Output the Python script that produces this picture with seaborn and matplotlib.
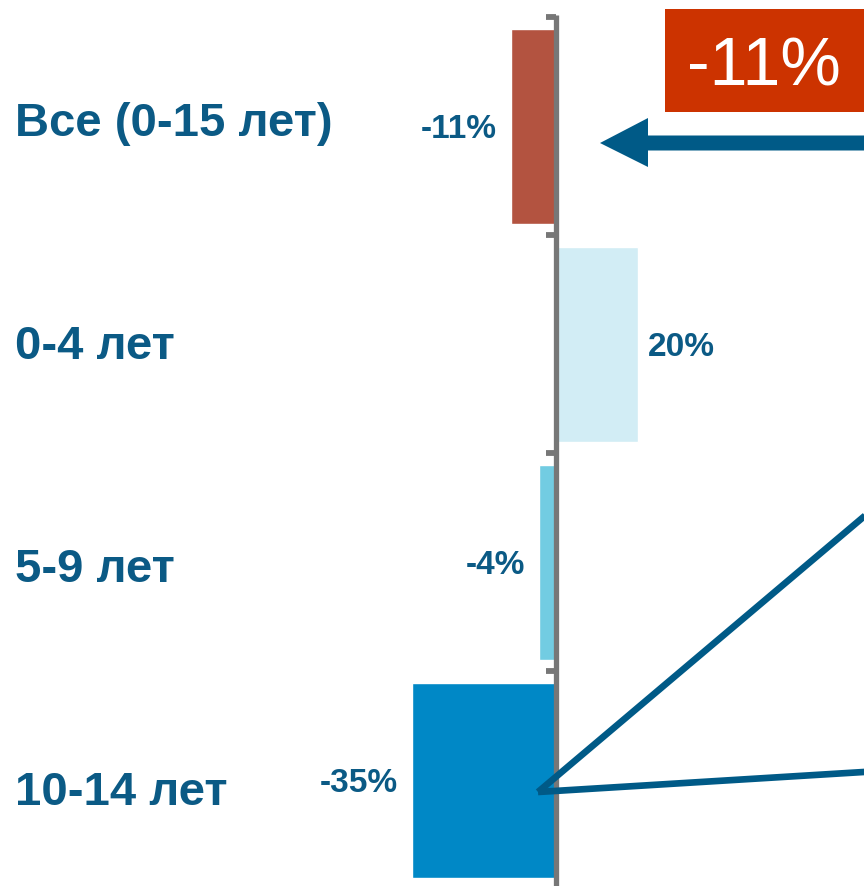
import matplotlib
matplotlib.use("Agg")
import matplotlib.pyplot as plt
from matplotlib.patches import Rectangle, Polygon
import seaborn as sns
import pandas as pd

# Population change by age group
categories = ["Все (0-15 лет)", "0-4 лет", "5-9 лет", "10-14 лет"]
changes = [-11, 20, -4, -35]
bar_colors = ["#B35340", "#D2EDF5", "#72CCE2", "#0088C6"]

TEXT = "#0B5A85"
ARROW = "#005A87"
AXIS = "#777777"

sns.set_theme(style="white")
plt.rcParams["font.family"] = ["Liberation Sans", "DejaVu Sans"]

W, H = 864, 886
fig = plt.figure(figsize=(W / 100, H / 100), dpi=100)
ax = fig.add_axes([0, 0, 1, 1])

df = pd.DataFrame({"group": categories, "change": changes})
sns.barplot(data=df, x="change", y="group", hue="group", palette=bar_colors,
            orient="h", width=0.895, legend=False, ax=ax, saturation=1)

ax.set_xlim(-135.2, 75.0)
ax.set_ylim(3.484, -0.580)
ax.set_axis_off()

# zero line with small ticks between groups
ax.vlines(0, -0.51, 3.6, color=AXIS, lw=3.8, zorder=3)
ax.hlines([-0.5, 0.5, 1.5, 2.5], -2.3, 0, color=AXIS, lw=4.2, zorder=3)

# group names on the left (their rows are spaced a little wider than the bars)
for i, name in enumerate(categories):
    ax.text(-131.6, i * 223 / 218 - 0.01, name, ha="left", va="center", fontsize=34,
            fontweight="bold", color=TEXT)

# value labels beside bars
for i, v in enumerate(changes):
    if v < 0:
        ax.annotate(f"{v}%", xy=(v, i), xytext=(-10, -2), textcoords="offset points",
                    ha="right", va="center", fontsize=24, fontweight="bold", color=TEXT)
    else:
        ax.annotate(f"{v}%", xy=(v, i), xytext=(7, -2), textcoords="offset points",
                    ha="left", va="center", fontsize=24, fontweight="bold", color=TEXT)


def px(x, y):
    return (x / W, 1 - y / H)


# highlighted total in a red box
x0, y0 = px(665, 112)
x1, y1 = px(870, 9)
fig.patches.append(Rectangle((x0, y0), x1 - x0, y1 - y0, transform=fig.transFigure,
                             facecolor="#CC3300", edgecolor="none", zorder=5))
fig.text(*px(764, 67), f"{changes[0]}%", ha="center", va="center",
         fontsize=49, color="white", zorder=6)

# arrow pointing at the total bar
arrow_pts = [px(600, 143), px(648, 118), px(648, 135.5), px(870, 135.5),
             px(870, 150.5), px(648, 150.5), px(648, 167)]
fig.patches.append(Polygon(arrow_pts, closed=True, transform=fig.transFigure,
                           facecolor=ARROW, edgecolor="none", zorder=5))

# callout lines from the 10-14 bar
apex = px(538, 792)
for end in (px(880, 503), px(880, 771)):
    fig.add_artist(plt.Line2D([apex[0], end[0]], [apex[1], end[1]],
                              transform=fig.transFigure, color=ARROW, lw=4.8,
                              solid_capstyle="butt", zorder=5))

fig.savefig("out.png", dpi=100)
